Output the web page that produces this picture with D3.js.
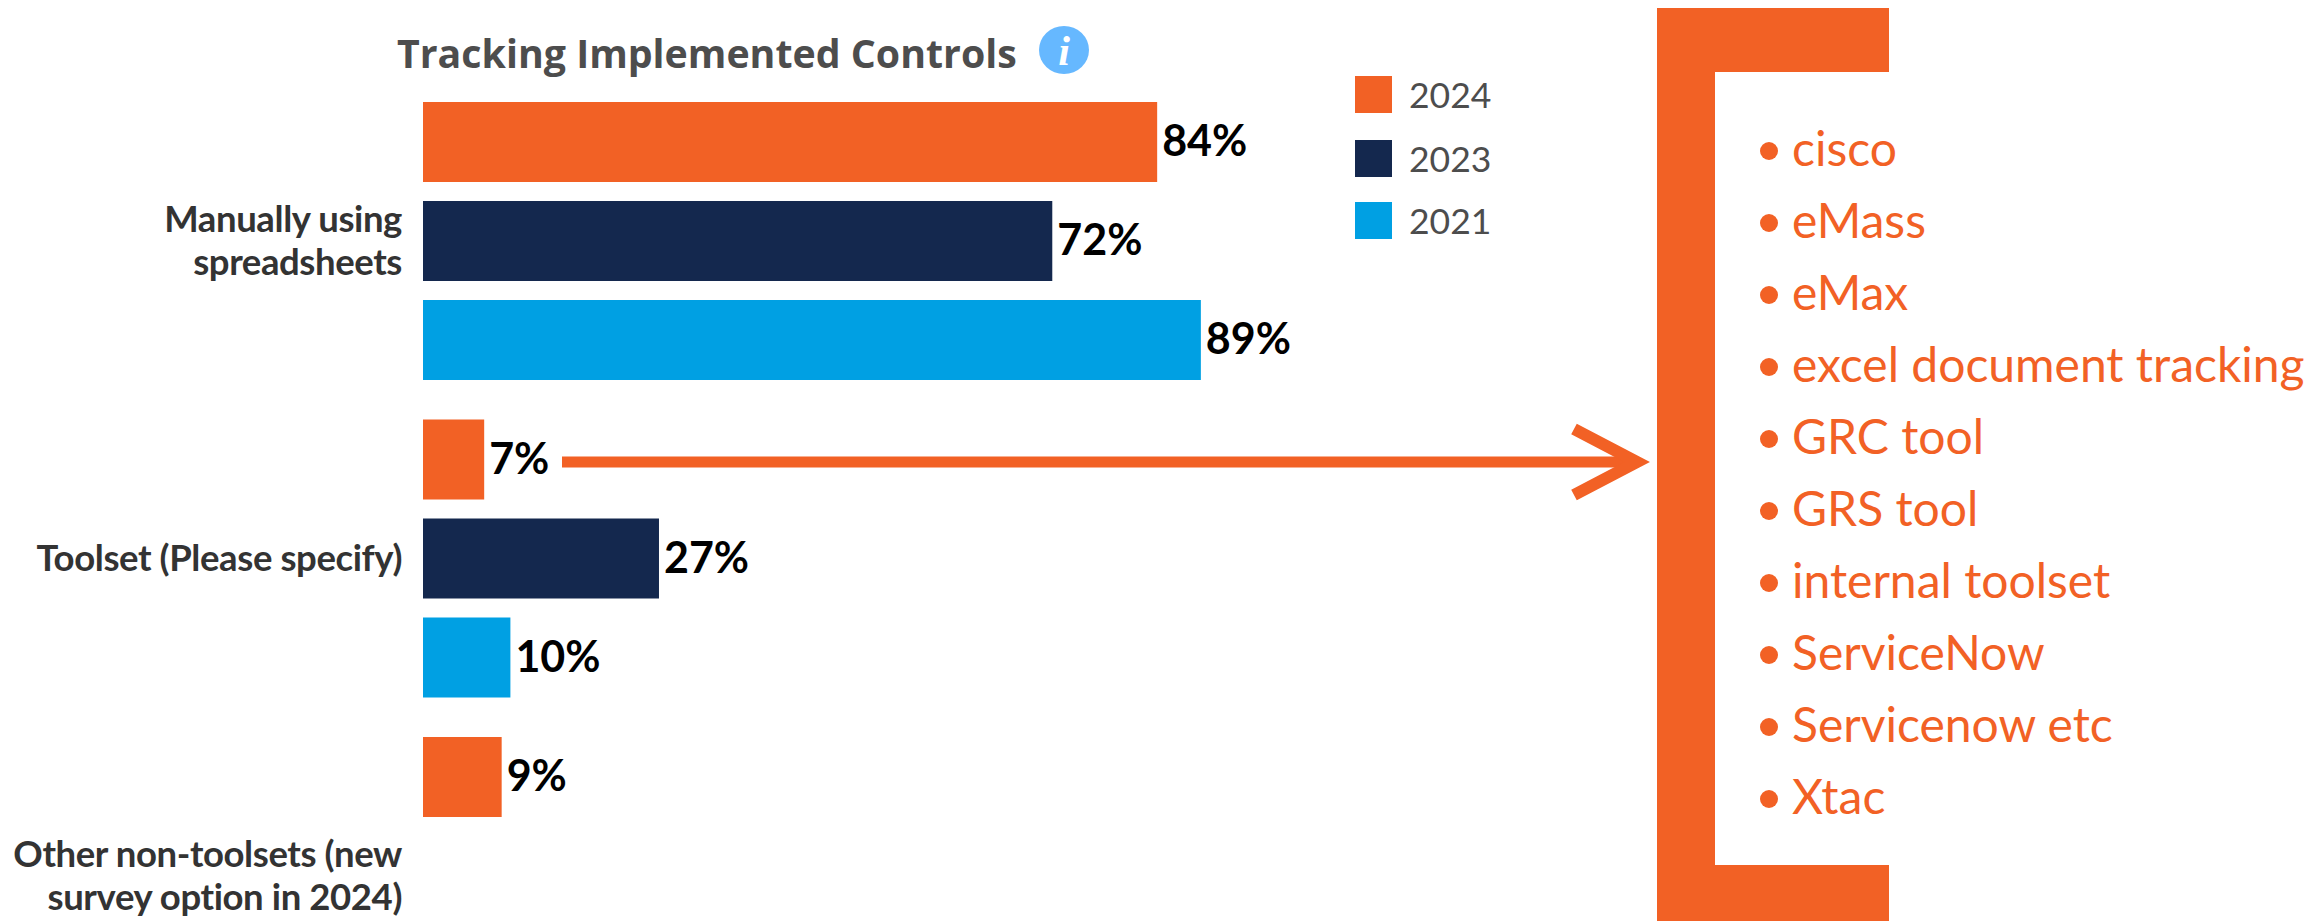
<!DOCTYPE html>
<html>
<head>
<meta charset="utf-8">
<script src="https://cdn.jsdelivr.net/npm/d3@7/dist/d3.min.js"></script>
<style>
  html, body { margin: 0; padding: 0; background: #fff; overflow: hidden; }
  svg { display: block; }
  text { font-family: Lato, sans-serif; }
</style>
</head>
<body>
<svg id="chart" width="2313" height="921"></svg>
<script>
// Survey responses, percent of respondents per answer and year
const categories = [
  ["Manually using", "spreadsheets"],
  ["Toolset (Please specify)"],
  ["Other non-toolsets (new", "survey option in 2024)"]
];
const years = ["2024", "2023", "2021"];
const values2024 = [84, 7, 9];
const values2023 = [72, 27, null];
const values2021 = [89, 10, null];
const toolsetAnswers = [
  "cisco", "eMass", "eMax", "excel document tracking", "GRC tool",
  "GRS tool", "internal toolset", "ServiceNow", "Servicenow etc", "Xtac"
];
const titleText = "Tracking Implemented Controls";

const colors = { "2024": "#f26125", "2023": "#14284e", "2021": "#00a0e3" };
const seriesByYear = { "2024": values2024, "2023": values2023, "2021": values2021 };

const svg = d3.select("#chart");

// Scales: one band per answer, one sub-band per year
const x = d3.scaleLinear().domain([0, 100]).range([423, 1297]);
const y0 = d3.scaleBand().domain(d3.range(categories.length)).range([102, 1054.5]);
const y1 = d3.scaleBand().domain(years).range([0, 278]).paddingInner(19 / 99);

// Bars and value labels
years.forEach(year => {
  const rows = seriesByYear[year]
    .map((v, i) => ({ v, i }))
    .filter(d => d.v !== null);
  const g = svg.append("g").attr("fill", colors[year]);
  g.selectAll("rect").data(rows).join("rect")
    .attr("x", x(0))
    .attr("y", d => y0(d.i) + y1(year))
    .attr("width", d => x(d.v) - x(0))
    .attr("height", y1.bandwidth());
  svg.append("g").selectAll("text").data(rows).join("text")
    .attr("x", d => x(d.v) + 5)
    .attr("y", d => y0(d.i) + y1(year) + y1.bandwidth() / 2 + 14)
    .attr("font-size", 43)
    .attr("font-weight", 700)
    .attr("fill", "#000")
    .text(d => d.v + "%");
});

// Category labels, right-aligned against the bars
const labelGroup = svg.append("g").attr("fill", "#333");
categories.forEach((lines, i) => {
  const mid = y0(i) + y1("2023") + y1.bandwidth() / 2;
  lines.forEach((line, k) => {
    labelGroup.append("text")
      .attr("x", 402)
      .attr("y", mid + 12 + (k - (lines.length - 1) / 2) * 43)
      .attr("text-anchor", "end")
      .attr("font-size", 36.5)
      .attr("font-weight", 700)
      .attr("letter-spacing", -0.4)
      .text(line);
  });
});

// Title and info badge
svg.append("text")
  .attr("x", 397).attr("y", 68)
  .attr("font-size", 39.3)
  .attr("font-weight", 700)
  .attr("fill", "#4d4d4d")
  .style("font-family", "'Open Sans', sans-serif")
  .text(titleText);
svg.append("ellipse")
  .attr("cx", 1064).attr("cy", 50).attr("rx", 25).attr("ry", 24)
  .attr("fill", "#66b8ff");
svg.append("text")
  .attr("x", 1064).attr("y", 65)
  .attr("text-anchor", "middle")
  .attr("font-size", 42)
  .attr("font-weight", 700)
  .attr("font-style", "italic")
  .attr("fill", "#fff")
  .style("font-family", "'Liberation Serif', serif")
  .text("i");

// Legend
const legend = svg.append("g").selectAll("g").data(years).join("g")
  .attr("transform", (d, i) => `translate(1355,${[76, 140, 202][i]})`);
legend.append("rect")
  .attr("width", 37).attr("height", 37)
  .attr("fill", d => colors[d]);
legend.append("text")
  .attr("x", 54).attr("y", 32)
  .attr("font-size", 35.5)
  .attr("fill", "#4d4d4d")
  .text(d => d);

// Arrow from the 2024 toolset bar to the bracketed answers
const accent = colors["2024"];
svg.append("line")
  .attr("x1", 562).attr("x2", 1636).attr("y1", 462).attr("y2", 462)
  .attr("stroke", accent).attr("stroke-width", 11);
svg.append("path")
  .attr("d", d3.line()([[1574, 429], [1637, 462], [1574, 495]]))
  .attr("fill", "none")
  .attr("stroke", accent).attr("stroke-width", 12)
  .attr("stroke-miterlimit", 10);

// Bracket around the list
svg.append("path")
  .attr("d", "M1889,8H1657V921H1889V865H1715V72H1889Z")
  .attr("fill", accent);

// Bulleted list of named toolsets
const listY = d3.scalePoint().domain(toolsetAnswers).range([151, 799]);
const items = svg.append("g").selectAll("g").data(toolsetAnswers).join("g")
  .attr("transform", d => `translate(0,${listY(d)})`);
items.append("circle")
  .attr("cx", 1769).attr("cy", 0).attr("r", 9)
  .attr("fill", accent);
items.append("text")
  .attr("x", 1792).attr("y", 15)
  .attr("font-size", 48)
  .attr("fill", accent)
  .text(d => d);
</script>
</body>
</html>
